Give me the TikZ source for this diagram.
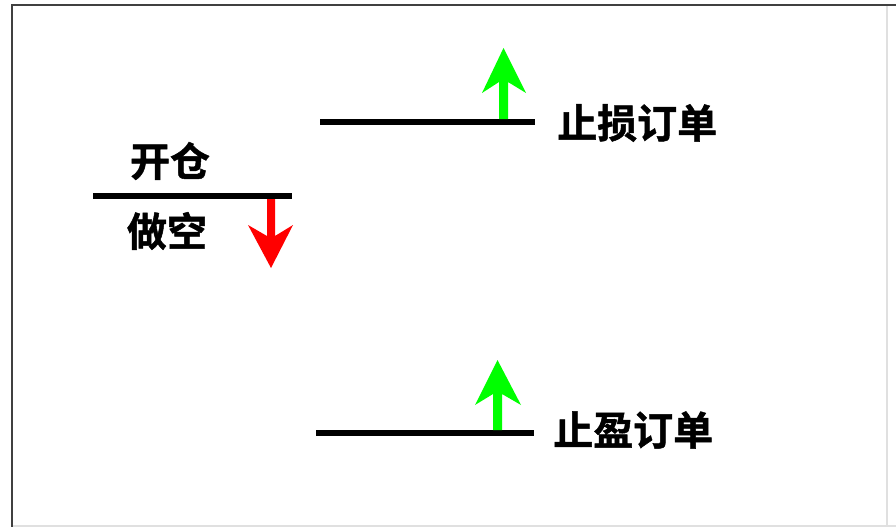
\documentclass[tikz,border=0pt]{standalone}
\usepackage{fontspec}
\newfontfamily\cjk{Noto Sans CJK SC}[BoldFont={* Bold},BoldFeatures={FakeBold=1.2}]
\begin{document}
\begin{tikzpicture}[x=1pt,y=-1pt,
  level/.style={line width=6pt,black},
  lbl/.style={font=\cjk\bfseries\fontsize{40}{40}\selectfont,inner sep=0pt},
  frameDark/.style={line width=2.5pt,draw=black!75},
  frameLight/.style={line width=1.2pt,draw=black!12}]
\useasboundingbox[fill=white] (0,0) rectangle (896,527);
% frame
\draw[frameLight] (887,5) -- (887,527);
\draw[frameLight] (12,526) -- (896,526);
\draw[frameDark] (896,5) -- (12,5) -- (12,527);
% coordinates
\coordinate (slA) at (320,122); \coordinate (slB) at (535,122);
\coordinate (tpA) at (316,433); \coordinate (tpB) at (534,433);
\coordinate (opA) at (93,196); \coordinate (opB) at (292,196);
% lines
\draw[level] (slA) -- (slB);
\draw[level] (tpA) -- (tpB);
\draw[level] (opA) -- (opB);
% green arrow (stop loss)
\fill[fill=green] (499,119) -- (499,82) -- (482,93) -- (503.5,48) -- (526,93) -- (508,82) -- (508,119) -- cycle;
% green arrow (take profit)
\fill[fill=green] (493,430) -- (493,394) -- (475,405) -- (497.5,360) -- (521,405) -- (502,394) -- (502,430) -- cycle;
% red arrow
\fill[fill=red] (267,199) -- (267,236) -- (248,225) -- (271,268) -- (293,225) -- (275,236) -- (275,199) -- cycle;
% labels
\node[lbl,anchor=west] (sl) at (557,123) {止损订单};
\node[lbl,anchor=west] (tp) at (553,430) {止盈订单};
\node[lbl] (kc) at (170,161) {开仓};
\node[lbl] (zk) at (167,231) {做空};
\end{tikzpicture}
\end{document}
